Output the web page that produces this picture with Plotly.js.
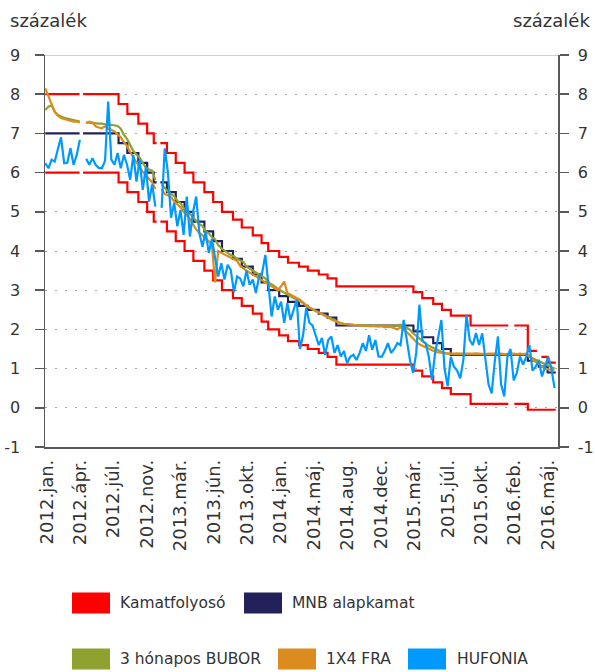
<!DOCTYPE html>
<html><head><meta charset="utf-8">
<script src="https://cdn.plot.ly/plotly-3.0.1.min.js"></script>
<style>html,body{margin:0;padding:0;background:#fff}</style>
</head><body><div id="chart" style="width:595px;height:672px"></div>
<script>
// ---- tick labels ----
const tickLabels = ['2012.jan.','2012.ápr.','2012.júl.','2012.nov.','2013.már.','2013.jún.','2013.okt.','2014.jan.','2014.máj.','2014.aug.','2014.dec.','2015.már.','2015.júl.','2015.okt.','2016.feb.','2016.máj.'];
const yTickVals = [-1,0,1,2,3,4,5,6,7,8,9];
const yTickText = ['-1','0','1','2','3','4','5','6','7','8','9'];

// ---- MNB alapkamat (step changes) ----
const baseDates = ['2012-01-09','2012-04-27','2012-04-30','2012-05-08','2012-08-29','2012-09-26','2012-10-31','2012-11-28','2012-12-19','2012-12-28','2012-12-29','2013-01-09','2013-01-30','2013-02-27','2013-03-27','2013-04-24','2013-05-29','2013-06-26','2013-07-24','2013-08-28','2013-09-25','2013-10-30','2013-11-27','2013-12-18','2014-01-22','2014-02-19','2014-03-26','2014-04-23','2014-05-28','2014-06-25','2014-07-23','2015-03-25','2015-04-22','2015-05-27','2015-06-24','2015-07-22','2016-03-23','2016-04-27','2016-05-25','2016-06-20'];
const baseRate  = [7,7,null,7,6.75,6.5,6.25,6,5.75,5.75,null,5.75,5.5,5.25,5,4.75,4.5,4.25,4,3.8,3.6,3.4,3.2,3,2.85,2.7,2.6,2.5,2.4,2.3,2.1,1.95,1.8,1.65,1.5,1.35,1.2,1.05,0.9,0.9];

// ---- Kamatfolyosó: upper and lower bound (step changes) ----
const upperDates = ['2012-01-09','2012-04-27','2012-04-30','2012-05-08','2012-08-29','2012-09-26','2012-10-31','2012-11-28','2012-12-19','2012-12-28','2012-12-29','2013-01-09','2013-01-30','2013-02-27','2013-03-27','2013-04-24','2013-05-29','2013-06-26','2013-07-24','2013-08-28','2013-09-25','2013-10-30','2013-11-27','2013-12-18','2014-01-22','2014-02-19','2014-03-26','2014-04-23','2014-05-28','2014-06-25','2014-07-23','2015-03-25','2015-04-22','2015-05-27','2015-06-24','2015-07-22','2015-09-23','2016-01-21','2016-01-22','2016-02-09','2016-03-23','2016-04-21','2016-04-22','2016-05-05','2016-05-25','2016-06-20'];
const upperRate  = [8,8,null,8,7.75,7.5,7.25,7,6.75,6.75,null,6.75,6.5,6.25,6,5.75,5.5,5.25,5,4.8,4.6,4.4,4.2,4,3.85,3.7,3.6,3.5,3.4,3.3,3.1,2.95,2.8,2.65,2.5,2.35,2.1,2.1,null,2.1,1.45,1.45,null,1.3,1.15,1.15];
const lowerDates = ['2012-01-09','2012-04-27','2012-04-30','2012-05-08','2012-08-29','2012-09-26','2012-10-31','2012-11-28','2012-12-19','2012-12-28','2012-12-29','2013-01-09','2013-01-30','2013-02-27','2013-03-27','2013-04-24','2013-05-29','2013-06-26','2013-07-24','2013-08-28','2013-09-25','2013-10-30','2013-11-27','2013-12-18','2014-01-22','2014-02-19','2014-03-26','2014-04-23','2014-05-28','2014-06-25','2014-07-23','2015-03-25','2015-04-22','2015-05-27','2015-06-24','2015-07-22','2015-09-23','2016-01-21','2016-01-22','2016-02-09','2016-03-23','2016-06-20'];
const lowerRate  = [6,6,null,6,5.75,5.5,5.25,5,4.75,4.75,null,4.75,4.5,4.25,4,3.75,3.5,3.25,3,2.8,2.6,2.4,2.2,2,1.85,1.7,1.6,1.5,1.4,1.3,1.1,0.95,0.8,0.65,0.5,0.35,0.1,0.1,null,0.1,-0.05,-0.05];

// ---- market rates, sampled every 10 days from 2012-01-09 ----
const sampleStart = '2012-01-09';
const sampleStepDays = 10;
const bubor3m = [
7.6,7.68,7.72,7.55,7.47,7.43,7.4,7.38,7.36,7.35,
7.32,7.3,null,7.28,7.27,7.26,7.26,7.25,7.25,7.23,
7.22,7.22,7.21,7.19,7.12,6.96,6.86,6.7,6.55,6.46,
6.38,6.25,6.13,6.08,6.05,5.8,null,5.7,5.6,5.52,
5.45,5.4,5.28,5.22,5.1,5.01,4.95,4.85,4.78,4.68,
4.64,4.5,4.45,4.35,4.3,4.15,4.07,4.0,3.95,3.9,
3.87,3.8,3.75,3.72,3.6,3.55,3.52,3.45,3.4,3.36,
3.3,3.2,3.16,3.1,3.03,2.98,2.95,2.9,2.83,2.8,
2.76,2.72,2.67,2.6,2.55,2.52,2.47,2.44,2.4,2.35,
2.3,2.26,2.22,2.18,2.16,2.14,2.13,2.12,2.11,2.11,
2.1,2.1,2.1,2.1,2.1,2.1,2.1,2.1,2.1,2.1,
2.09,2.08,2.1,2.12,2.1,2.05,1.99,1.9,1.83,1.76,
1.7,1.64,1.58,1.54,1.5,1.46,1.42,1.39,1.38,1.37,
1.37,1.37,1.37,1.37,1.37,1.37,1.37,1.37,1.37,1.37,
1.37,1.37,1.37,1.37,1.37,1.37,1.37,1.37,1.37,1.37,
1.37,1.37,1.37,1.36,1.3,1.26,1.22,1.18,1.14,1.1,
1.06,1.03,1.0];
const fra1x4 = [
8.15,7.94,7.72,7.55,7.45,7.39,7.37,7.35,7.33,7.3,
7.3,7.28,null,7.26,7.3,7.28,7.18,7.15,7.13,7.18,
7.12,7.09,7.05,6.98,6.9,6.78,6.68,6.52,6.38,6.25,
6.13,6.02,5.93,5.85,5.75,5.58,null,5.58,5.45,5.42,
5.37,5.27,5.2,5.12,5.0,4.92,4.82,4.68,4.55,4.46,
4.4,4.3,4.25,4.15,3.2,4.0,3.95,3.9,3.87,3.83,
3.8,3.75,3.62,3.55,3.5,3.45,3.4,3.35,3.3,3.25,
3.2,3.13,3.08,3.03,3.0,3.1,3.22,2.93,2.88,2.84,
2.8,2.76,2.68,2.62,2.56,2.52,2.47,2.44,2.4,2.35,
2.3,2.25,2.21,2.18,2.15,2.14,2.13,2.12,2.11,2.1,
2.1,2.1,2.09,2.08,2.09,2.08,2.07,2.08,2.05,2.07,
2.06,2.03,2.0,2.06,2.0,1.93,1.85,1.75,1.68,1.62,
1.58,1.55,1.5,1.46,1.43,1.41,1.4,1.39,1.38,1.38,
1.38,1.39,1.38,1.38,1.37,1.38,1.38,1.39,1.38,1.38,
1.37,1.38,1.38,1.38,1.39,1.38,1.37,1.38,1.38,1.38,
1.37,1.38,1.37,1.38,1.32,1.22,1.18,1.12,1.05,1.0,
0.98,0.97,0.97];
const hufonia = [
6.24,6.11,6.33,6.28,6.6,6.9,6.24,6.25,6.62,6.2,
6.45,6.84,null,6.35,6.2,6.37,6.2,6.12,6.11,6.3,
7.81,6.33,6.2,6.5,6.11,6.45,6.2,5.82,6.45,5.77,
6.33,5.56,6.15,5.26,5.7,5.13,null,5.1,6.62,6.0,
4.85,5.23,4.63,5.05,4.41,5.39,4.37,5.0,5.39,4.46,
4.11,4.5,3.95,4.31,3.86,3.35,3.69,3.27,3.65,3.52,
2.95,3.35,3.3,3.1,3.5,3.14,3.27,2.93,3.35,3.45,
3.9,3.1,2.33,2.84,2.5,2.71,2.17,2.67,2.24,2.5,
2.75,1.5,1.85,2.55,2.17,2.1,1.82,1.6,1.78,1.35,
1.73,1.82,1.4,1.6,1.31,1.45,1.14,1.3,1.35,1.22,
1.4,1.65,1.45,1.85,1.48,1.73,1.31,1.3,1.45,1.65,
1.4,1.5,1.65,1.6,2.24,1.73,1.22,0.89,1.4,2.63,
1.7,1.65,1.3,0.71,1.4,1.8,2.24,1.0,0.55,1.3,
1.05,0.95,0.75,1.22,2.37,1.73,1.6,1.91,1.6,1.9,
1.3,0.6,0.37,1.2,1.82,0.6,0.29,1.3,1.5,0.7,
0.89,1.31,1.1,1.3,1.6,0.95,1.05,1.2,0.8,1.05,
1.3,1.0,0.5];

// ---- colours ----
const C = {red:'#ff0000', navy:'#22215a', olive:'#8fa22f', orange:'#dc8c1e', blue:'#0099ff'};

function sampleDates(n){
  const t0 = Date.parse(sampleStart + 'T00:00:00Z');
  const out = [];
  for (let i = 0; i < n; i++) out.push(new Date(t0 + i*sampleStepDays*86400000).toISOString().slice(0,10));
  return out;
}

const LW = 2.2;
const traces = [
  {x: upperDates, y: upperRate, mode:'lines', line:{color:C.red, width:LW, shape:'hv'}, connectgaps:false, name:'Kamatfolyosó'},
  {x: lowerDates, y: lowerRate, mode:'lines', line:{color:C.red, width:LW, shape:'hv'}, connectgaps:false, name:'Kamatfolyosó'},
  {x: baseDates, y: baseRate, mode:'lines', line:{color:C.navy, width:LW, shape:'hv'}, connectgaps:false, name:'MNB alapkamat'},
  {x: sampleDates(bubor3m.length), y: bubor3m, mode:'lines', line:{color:C.olive, width:LW}, connectgaps:false, name:'3 hónapos BUBOR'},
  {x: sampleDates(fra1x4.length), y: fra1x4, mode:'lines', line:{color:C.orange, width:LW}, connectgaps:false, name:'1X4 FRA'},
  {x: sampleDates(hufonia.length), y: hufonia, yaxis:'y2', mode:'lines', line:{color:C.blue, width:LW}, connectgaps:false, name:'HUFONIA'}
];

// axis geometry (pixels)
const W = 595, H = 672;
const M = {l:45, r:37, t:55, b:225};
const pw = W - M.l - M.r, ph = H - M.t - M.b;
const px2x = p => (p - M.l)/pw;
const py2y = p => (H - M.b - p)/ph;

const xStart = '2012-01-08', xEnd = '2016-06-27';
const t0 = Date.parse(xStart + 'T00:00:00Z');
const tickvals = tickLabels.map((_, k) => new Date(t0 + (6 + 106.27*k)*86400000).toISOString().slice(0,10));

const FONT = 'DejaVu Sans, sans-serif';
const TXT = '#333333';
const AX = '#595959';

const shapes = [
  {type:'line', xref:'paper', yref:'y', x0:0, x1:1, y0:9, y1:9, line:{color:'#c0c0c0', width:1.5}, layer:'below'}
];
const annotations = [
  {xref:'paper', yref:'paper', x:px2x(8), y:py2y(20), xanchor:'left', yanchor:'middle', text:'százalék', showarrow:false, font:{family:FONT, size:18, color:TXT}},
  {xref:'paper', yref:'paper', x:px2x(592), y:py2y(20), xanchor:'right', yanchor:'middle', text:'százalék', showarrow:false, font:{family:FONT, size:18, color:TXT}}
];
const legendItems = [
  {label:'Kamatfolyosó', color:C.red, sx:72, tx:118, cy:603},
  {label:'MNB alapkamat', color:C.navy, sx:244, tx:290, cy:603},
  {label:'3 hónapos BUBOR', color:C.olive, sx:72, tx:118, cy:659},
  {label:'1X4 FRA', color:C.orange, sx:278, tx:324, cy:659},
  {label:'HUFONIA', color:C.blue, sx:408, tx:455, cy:659}
];
legendItems.forEach(it => {
  shapes.push({type:'rect', xref:'paper', yref:'paper', x0:px2x(it.sx), x1:px2x(it.sx+38), y0:py2y(it.cy-10.5), y1:py2y(it.cy+10.5), line:{width:0}, fillcolor:it.color});
  annotations.push({xref:'paper', yref:'paper', x:px2x(it.tx), y:py2y(it.cy), xanchor:'left', yanchor:'middle', text:it.label, showarrow:false, font:{family:FONT, size:15.5, color:TXT}});
});

const yCommon = {
  range:[-1,9], tickmode:'array', tickvals:yTickVals, ticktext:yTickText,
  showline:true, linecolor:AX, linewidth:1.5,
  ticks:'outside', ticklen:9, tickwidth:1.5, tickcolor:AX,
  tickfont:{family:FONT, size:16, color:TXT}, zeroline:false, fixedrange:true
};

const layout = {
  width:W, height:H, margin:M, paper_bgcolor:'#fff', plot_bgcolor:'#fff',
  showlegend:false,
  xaxis:{type:'date', range:[xStart, xEnd], showline:true, linecolor:AX, linewidth:1.5,
         ticks:'', tickmode:'array', tickvals:tickvals, ticktext:tickLabels, tickangle:-90,
         tickfont:{family:FONT, size:18, color:TXT}, showgrid:false, zeroline:false, ticklabelstandoff:4},
  yaxis:Object.assign({}, yCommon, {side:'left', showgrid:true, gridcolor:'#a6a6a6', gridwidth:1, griddash:'2px,8px', ticklabelstandoff:11}),
  yaxis2:Object.assign({}, yCommon, {side:'right', overlaying:'y', anchor:'x', showgrid:false, ticklabelstandoff:6}),
  shapes:shapes, annotations:annotations
};

Plotly.newPlot('chart', traces, layout, {displayModeBar:false, staticPlot:true});
</script></body></html>
